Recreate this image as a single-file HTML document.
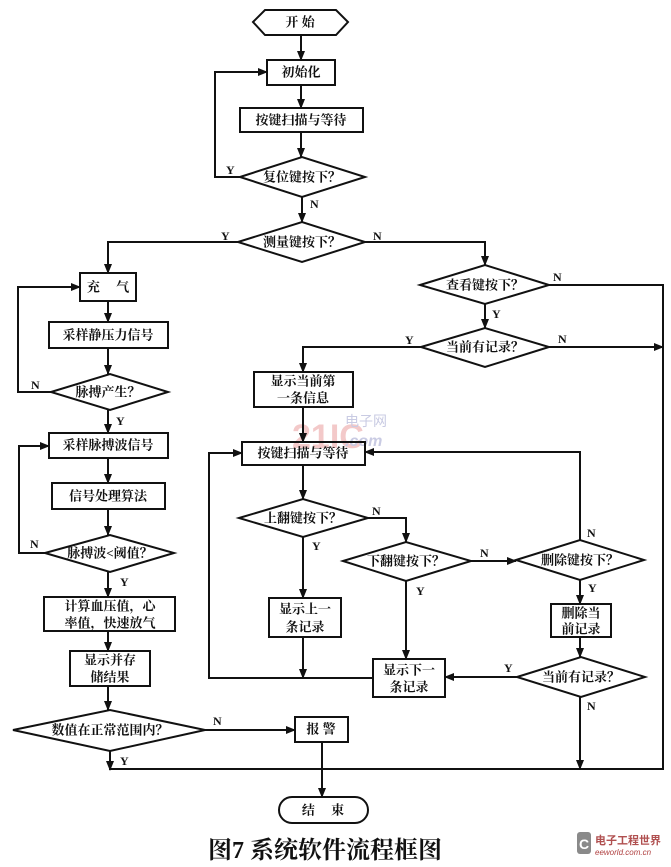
<!DOCTYPE html>
<html><head><meta charset="utf-8"><style>
html,body{margin:0;padding:0;background:#fff;}
svg{display:block;}
text{font-family:"Liberation Serif","Noto Serif CJK SC",serif;font-weight:bold;fill:#111;}
.t{font-size:13px;text-anchor:middle;dominant-baseline:central;}
.l{font-size:12px;font-family:"Liberation Serif",serif;font-weight:bold;}
</style></head><body>
<svg width="671" height="867" viewBox="0 0 671 867" xmlns="http://www.w3.org/2000/svg">
<defs>
<marker id="a" markerWidth="10" markerHeight="8" refX="9" refY="4" orient="auto" markerUnits="userSpaceOnUse">
<path d="M0,0 L10,4 L0,8 Z" fill="#111"/></marker>
</defs>
<rect width="671" height="867" fill="#fff"/>
<!-- watermark -->
<text x="292" y="448" style="font-size:34px;fill:#f3c9c9;font-family:'Liberation Sans',sans-serif;font-weight:bold">21IC</text>
<text x="345" y="426" style="font-size:14px;fill:#c9cbe3;font-family:'Liberation Sans','Noto Sans CJK SC',sans-serif;font-weight:normal">电子网</text>
<text x="345" y="446" style="font-size:16px;fill:#c9cbe3;font-family:'Liberation Sans',sans-serif;font-style:italic">.com</text>

<g fill="none" stroke="#111" stroke-width="2">
<!-- shapes -->
<polygon points="253,22 265,10 336,10 348,22 336,35 265,35" />
<rect x="267" y="60" width="68" height="25"/>
<rect x="240" y="108" width="123" height="24"/>
<polygon points="240,177 302,157 365,177 302,197"/>
<polygon points="238,242 302,222 365,242 302,262"/>
<rect x="80" y="273" width="56" height="28"/>
<rect x="49" y="322" width="119" height="26"/>
<polygon points="51,392 110,374 168,392 110,410"/>
<rect x="49" y="433" width="119" height="25"/>
<rect x="52" y="483" width="113" height="26"/>
<polygon points="45,553 110,535 174,553 110,572"/>
<rect x="44" y="597" width="131" height="34"/>
<rect x="70" y="651" width="80" height="35"/>
<polygon points="13,730 110,710 205,730 110,751"/>
<rect x="295" y="717" width="53" height="25"/>
<rect x="279" y="797" width="89" height="26" rx="13"/>
<polygon points="420,285 485,265 549,285 485,304"/>
<polygon points="421,347 485,328 549,347 485,367"/>
<rect x="254" y="372" width="99" height="35"/>
<rect x="242" y="442" width="123" height="23"/>
<polygon points="239,518 303,499 368,518 303,537"/>
<polygon points="343,561 406,542 471,561 406,581"/>
<polygon points="516,560 580,540 644,560 580,580"/>
<rect x="269" y="598" width="72" height="39"/>
<rect x="551" y="604" width="60" height="33"/>
<polygon points="517,677 581,657 645,677 581,697"/>
<rect x="373" y="659" width="72" height="38"/>

<!-- connectors -->
<line x1="301" y1="35" x2="301" y2="60" marker-end="url(#a)"/>
<line x1="301" y1="85" x2="301" y2="108" marker-end="url(#a)"/>
<line x1="301" y1="132" x2="301" y2="157" marker-end="url(#a)"/>
<polyline points="240,177 215,177 215,72 267,72" marker-end="url(#a)"/>
<line x1="302" y1="197" x2="302" y2="222" marker-end="url(#a)"/>
<polyline points="238,242 108,242 108,273" marker-end="url(#a)"/>
<polyline points="365,242 485,242 485,265" marker-end="url(#a)"/>
<line x1="108" y1="301" x2="108" y2="322" marker-end="url(#a)"/>
<line x1="108" y1="348" x2="108" y2="374" marker-end="url(#a)"/>
<polyline points="51,392 18,392 18,287 80,287" marker-end="url(#a)"/>
<line x1="108" y1="410" x2="108" y2="433" marker-end="url(#a)"/>
<line x1="108" y1="458" x2="108" y2="483" marker-end="url(#a)"/>
<line x1="108" y1="509" x2="108" y2="535" marker-end="url(#a)"/>
<polyline points="45,553 19,553 19,446 49,446" marker-end="url(#a)"/>
<line x1="108" y1="572" x2="108" y2="597" marker-end="url(#a)"/>
<line x1="108" y1="631" x2="108" y2="651" marker-end="url(#a)"/>
<line x1="108" y1="686" x2="108" y2="710" marker-end="url(#a)"/>
<line x1="205" y1="730" x2="295" y2="730" marker-end="url(#a)"/>
<line x1="110" y1="751" x2="110" y2="770" marker-end="url(#a)"/>
<polyline points="110,769 663,769 663,285 549,285"/>
<line x1="549" y1="347" x2="663" y2="347" marker-end="url(#a)"/>
<line x1="322" y1="742" x2="322" y2="797" marker-end="url(#a)"/>
<line x1="485" y1="304" x2="485" y2="328" marker-end="url(#a)"/>
<polyline points="421,347 303,347 303,372" marker-end="url(#a)"/>
<line x1="303" y1="407" x2="303" y2="442" marker-end="url(#a)"/>
<line x1="303" y1="465" x2="303" y2="499" marker-end="url(#a)"/>
<polyline points="368,518 406,518 406,542" marker-end="url(#a)"/>
<line x1="303" y1="537" x2="303" y2="598" marker-end="url(#a)"/>
<line x1="303" y1="637" x2="303" y2="678" marker-end="url(#a)"/>
<polyline points="373,678 209,678 209,453 242,453" marker-end="url(#a)"/>
<line x1="471" y1="561" x2="516" y2="561" marker-end="url(#a)"/>
<line x1="406" y1="581" x2="406" y2="659" marker-end="url(#a)"/>
<polyline points="580,540 580,452 365,452" marker-end="url(#a)"/>
<line x1="580" y1="580" x2="580" y2="604" marker-end="url(#a)"/>
<line x1="580" y1="637" x2="580" y2="657" marker-end="url(#a)"/>
<line x1="517" y1="677" x2="445" y2="677" marker-end="url(#a)"/>
<line x1="580" y1="697" x2="580" y2="769" marker-end="url(#a)"/>
</g>

<!-- node texts -->
<text class="t" x="300" y="22">开 始</text>
<text class="t" x="301" y="72">初始化</text>
<text class="t" x="301" y="120">按键扫描与等待</text>
<text class="t" x="302" y="177">复位键按下？</text>
<text class="t" x="302" y="242">测量键按下？</text>
<text class="t" x="108" y="287">充 　气</text>
<text class="t" x="108" y="335">采样静压力信号</text>
<text class="t" x="108" y="392">脉搏产生？</text>
<text class="t" x="108" y="445">采样脉搏波信号</text>
<text class="t" x="108" y="496">信号处理算法</text>
<text class="t" x="110" y="553">脉搏波&lt;阈值？</text>
<text class="t" x="110" y="606">计算血压值，心</text>
<text class="t" x="110" y="623">率值，快速放气</text>
<text class="t" x="110" y="660">显示并存</text>
<text class="t" x="110" y="677">储结果</text>
<text class="t" x="110" y="730">数值在正常范围内？</text>
<text class="t" x="321" y="729">报 警</text>
<text class="t" x="323" y="810">结 　束</text>
<text class="t" x="485" y="285">查看键按下？</text>
<text class="t" x="485" y="347">当前有记录？</text>
<text class="t" x="303" y="381">显示当前第</text>
<text class="t" x="303" y="398">一条信息</text>
<text class="t" x="303" y="453">按键扫描与等待</text>
<text class="t" x="303" y="518">上翻键按下？</text>
<text class="t" x="406" y="561">下翻键按下？</text>
<text class="t" x="580" y="560">删除键按下？</text>
<text class="t" x="305" y="609">显示上一</text>
<text class="t" x="305" y="627">条记录</text>
<text class="t" x="581" y="613">删除当</text>
<text class="t" x="581" y="629">前记录</text>
<text class="t" x="581" y="677">当前有记录？</text>
<text class="t" x="409" y="670">显示下一</text>
<text class="t" x="409" y="687">条记录</text>

<!-- labels -->
<text class="l" x="226" y="174">Y</text>
<text class="l" x="310" y="208">N</text>
<text class="l" x="221" y="240">Y</text>
<text class="l" x="373" y="240">N</text>
<text class="l" x="31" y="389">N</text>
<text class="l" x="116" y="425">Y</text>
<text class="l" x="30" y="548">N</text>
<text class="l" x="120" y="586">Y</text>
<text class="l" x="213" y="725">N</text>
<text class="l" x="120" y="765">Y</text>
<text class="l" x="553" y="281">N</text>
<text class="l" x="492" y="318">Y</text>
<text class="l" x="405" y="344">Y</text>
<text class="l" x="558" y="343">N</text>
<text class="l" x="372" y="515">N</text>
<text class="l" x="312" y="550">Y</text>
<text class="l" x="480" y="557">N</text>
<text class="l" x="416" y="595">Y</text>
<text class="l" x="587" y="537">N</text>
<text class="l" x="588" y="592">Y</text>
<text class="l" x="504" y="672">Y</text>
<text class="l" x="587" y="710">N</text>

<!-- caption -->
<text x="325" y="858" style="font-size:24px;text-anchor:middle;font-weight:bold">图7 系统软件流程框图</text>

<!-- logo -->
<rect x="577" y="832" width="14" height="22" rx="3" fill="#8a8a8a"/>
<text x="584" y="849" style="font-size:14px;fill:#fff;text-anchor:middle;font-family:'Liberation Sans',sans-serif">C</text>
<text x="595" y="844" style="font-size:11px;fill:#b05050;font-family:'Liberation Sans','Noto Sans CJK SC',sans-serif">电子工程世界</text>
<text x="595" y="855" style="font-size:8px;fill:#b04040;font-style:italic;font-family:'Liberation Sans',sans-serif;font-weight:normal">eeworld.com.cn</text>
</svg>
</body></html>
